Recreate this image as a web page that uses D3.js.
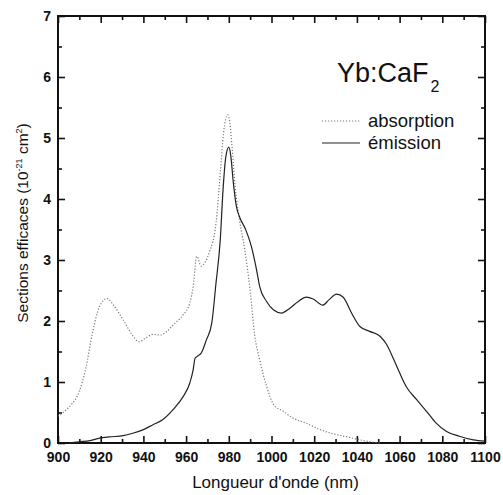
<!DOCTYPE html>
<html>
<head>
<meta charset="utf-8">
<script src="https://cdn.jsdelivr.net/npm/d3@7"></script>
<style>
  html, body { margin: 0; padding: 0; background: #fff; }
  text { font-family: "Liberation Sans", Arial, sans-serif; fill: #111; }
</style>
</head>
<body>
<svg id="chart" width="503" height="495"></svg>
<script>
// Wavelengths (nm) and cross sections (10^-21 cm^2)
const absWavelength = [900, 903, 906, 910, 913, 916, 919.5, 923, 926, 930.5, 935, 938, 941, 944.5, 947.7, 951, 954, 958.6, 961.7, 963.3, 965, 967, 969, 971, 974, 976, 977.5, 979.5, 980.5, 981.5, 983, 985, 987.5, 990, 992, 994.5, 997.7, 1001, 1005.5, 1010, 1016, 1022.7, 1029, 1036.7, 1044.5, 1050.8];
const absValues     = [0.44, 0.52, 0.62, 0.85, 1.22, 1.78, 2.24, 2.37, 2.26, 2.02, 1.76, 1.66, 1.72, 1.78, 1.77, 1.83, 1.94, 2.10, 2.29, 2.56, 3.06, 2.90, 2.97, 3.14, 3.60, 4.42, 5.07, 5.38, 5.25, 4.86, 4.20, 3.66, 3.16, 2.50, 1.80, 1.36, 0.93, 0.63, 0.52, 0.41, 0.33, 0.22, 0.15, 0.09, 0.03, 0.00];

const emWavelength = [905, 910, 915, 919.5, 924, 930.5, 935, 940, 944.5, 949, 954, 958.6, 961.7, 963.3, 964.2, 965.6, 967, 969.5, 972, 974, 976, 977.3, 978.6, 980, 981, 982, 983.6, 985, 988, 990.6, 993, 994.5, 997.7, 1001, 1004.7, 1008.6, 1012.5, 1016.4, 1019.5, 1024, 1027, 1030.5, 1033.6, 1037.5, 1041.4, 1046, 1050.8, 1054, 1057, 1060, 1063, 1068, 1072.6, 1077, 1082, 1088, 1094.5, 1100];
const emValues     = [0.00, 0.02, 0.04, 0.08, 0.10, 0.12, 0.16, 0.22, 0.30, 0.38, 0.55, 0.76, 0.98, 1.20, 1.39, 1.43, 1.47, 1.69, 1.96, 2.62, 3.33, 4.15, 4.69, 4.85, 4.69, 4.31, 3.87, 3.71, 3.49, 3.22, 2.84, 2.56, 2.32, 2.18, 2.13, 2.21, 2.32, 2.39, 2.36, 2.26, 2.35, 2.44, 2.39, 2.13, 1.91, 1.83, 1.75, 1.61, 1.39, 1.15, 0.93, 0.71, 0.52, 0.33, 0.19, 0.11, 0.05, 0.03];

const xTicks = [900, 920, 940, 960, 980, 1000, 1020, 1040, 1060, 1080, 1100];
const yTicks = [0, 1, 2, 3, 4, 5, 6, 7];
const seriesNames = ["absorption", "émission"];

const svg = d3.select("#chart");
const plot = { left: 58, right: 485, top: 16, bottom: 443 };

const x = d3.scaleLinear().domain([900, 1100]).range([plot.left, plot.right]);
const y = d3.scaleLinear().domain([0, 7]).range([plot.bottom, plot.top]);

const tickFont = "bold 14px 'Liberation Sans', Arial, sans-serif";

// Axes with inward ticks on every side
function styleAxis(g) {
  g.select(".domain").remove();
  g.selectAll("line").attr("stroke", "#111").attr("stroke-width", 1.6);
}

const xMinor = d3.range(900, 1101, 10).filter(v => v % 20 !== 0);
const yMinor = d3.range(0.5, 7, 1);

// bottom
svg.append("g").attr("transform", `translate(0,${plot.bottom})`)
  .call(d3.axisBottom(x).tickValues(xTicks).tickSizeInner(-7).tickSizeOuter(0).tickPadding(9).tickFormat(d3.format("d")))
  .call(styleAxis)
  .call(g => g.selectAll("text").style("font", tickFont).attr("fill", "#111"));
svg.append("g").attr("transform", `translate(0,${plot.bottom})`)
  .call(d3.axisBottom(x).tickValues(xMinor).tickSizeInner(-4).tickSizeOuter(0).tickFormat(""))
  .call(styleAxis);
// top
svg.append("g").attr("transform", `translate(0,${plot.top})`)
  .call(d3.axisTop(x).tickValues(xTicks).tickSizeInner(-7).tickSizeOuter(0).tickFormat(""))
  .call(styleAxis);
svg.append("g").attr("transform", `translate(0,${plot.top})`)
  .call(d3.axisTop(x).tickValues(xMinor).tickSizeInner(-4).tickSizeOuter(0).tickFormat(""))
  .call(styleAxis);
// left
svg.append("g").attr("transform", `translate(${plot.left},0)`)
  .call(d3.axisLeft(y).tickValues(yTicks).tickSizeInner(-7).tickSizeOuter(0).tickPadding(7).tickFormat(d3.format("d")))
  .call(styleAxis)
  .call(g => g.selectAll("text").style("font", tickFont).attr("fill", "#111"));
svg.append("g").attr("transform", `translate(${plot.left},0)`)
  .call(d3.axisLeft(y).tickValues(yMinor).tickSizeInner(-4).tickSizeOuter(0).tickFormat(""))
  .call(styleAxis);
// right
svg.append("g").attr("transform", `translate(${plot.right},0)`)
  .call(d3.axisRight(y).tickValues(yTicks).tickSizeInner(-7).tickSizeOuter(0).tickFormat(""))
  .call(styleAxis);
svg.append("g").attr("transform", `translate(${plot.right},0)`)
  .call(d3.axisRight(y).tickValues(yMinor).tickSizeInner(-4).tickSizeOuter(0).tickFormat(""))
  .call(styleAxis);

// frame
svg.append("rect")
  .attr("x", plot.left).attr("y", plot.top)
  .attr("width", plot.right - plot.left).attr("height", plot.bottom - plot.top)
  .attr("fill", "none").attr("stroke", "#111").attr("stroke-width", 2);

// curves
const line = d3.line().x(d => x(d[0])).y(d => y(d[1])).curve(d3.curveMonotoneX);
const absData = d3.zip(absWavelength, absValues);
const emData = d3.zip(emWavelength, emValues);

svg.append("path").datum(absData)
  .attr("d", line)
  .attr("fill", "none").attr("stroke", "#777").attr("stroke-width", 1.2)
  .attr("stroke-dasharray", "1.2,1.8");

svg.append("path").datum(emData)
  .attr("d", line)
  .attr("fill", "none").attr("stroke", "#222").attr("stroke-width", 1.2);

// axis titles
svg.append("text")
  .attr("x", (plot.left + plot.right) / 2 + 4).attr("y", 488)
  .attr("text-anchor", "middle")
  .style("font", "17px 'Liberation Sans', Arial, sans-serif")
  .text("Longueur d'onde (nm)");

const yTitle = svg.append("text")
  .attr("transform", "translate(28,223) rotate(-90)")
  .attr("text-anchor", "middle")
  .style("font", "15.5px 'Liberation Sans', Arial, sans-serif");
yTitle.append("tspan").text("Sections efficaces (10");
yTitle.append("tspan").attr("dy", -6).style("font-size", "9px").text("-21");
yTitle.append("tspan").attr("dy", 6).text(" cm");
yTitle.append("tspan").attr("dy", -6).style("font-size", "9px").text("2");
yTitle.append("tspan").attr("dy", 6).text(")");

// material label
const mat = svg.append("text").attr("x", 337).attr("y", 82)
  .style("font", "27px 'Liberation Sans', Arial, sans-serif");
mat.append("tspan").text("Yb:CaF");
mat.append("tspan").attr("dy", 10).attr("dx", 2).style("font-size", "16px").text("2");

// legend
const legend = svg.append("g");
seriesNames.forEach((name, i) => {
  const ly = 121 + i * 22;
  legend.append("line")
    .attr("x1", 322).attr("x2", 360).attr("y1", ly).attr("y2", ly)
    .attr("stroke", i === 0 ? "#777" : "#222")
    .attr("stroke-width", 1.1)
    .attr("stroke-dasharray", i === 0 ? "1.2,1.8" : null);
  legend.append("text").attr("x", 368).attr("y", ly + 6)
    .style("font", "18.5px 'Liberation Sans', Arial, sans-serif")
    .text(name);
});
</script>
</body>
</html>
